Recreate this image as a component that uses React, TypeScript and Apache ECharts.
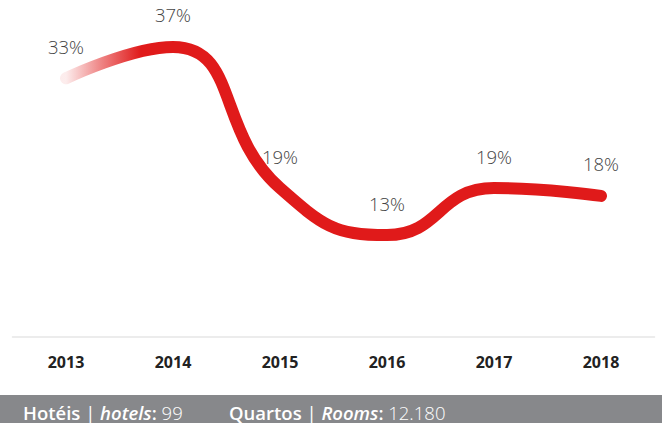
import React, { useEffect, useRef } from "react";
import * as echarts from "echarts";

const years = ["2013", "2014", "2015", "2016", "2017", "2018"];
const occupancy = [33, 37, 19, 13, 19, 18];
const hotelsCount = "99";
const roomsCount = "12.180";

export default function App() {
  const ref = useRef<HTMLDivElement>(null);
  useEffect(() => {
    document.body.style.margin = "0";
    const chart = echarts.init(ref.current!, null, { renderer: "svg" });
    const red = new echarts.graphic.LinearGradient(0, 0, 1, 0, [
      { offset: 0, color: "rgba(224,26,26,0.08)" },
      { offset: 0.06, color: "rgba(224,26,26,0.5)" },
      { offset: 0.14, color: "#e01a1a" },
      { offset: 1, color: "#e01a1a" },
    ]);
    const base = { fontFamily: "Open Sans", fontSize: 18.5, lineHeight: 14, fill: "#ffffff", color: "#ffffff" };
    const rich = {
      b: { ...base, fontWeight: 600 },
      n: { ...base, fontWeight: 400 },
      bi: { ...base, fontWeight: 600, fontStyle: "italic" },
      l: { ...base, fontWeight: 300 },
    };
    chart.setOption({
      animation: false,
      backgroundColor: "#ffffff",
      grid: { left: 12.5, right: 7.5, top: 23.4, bottom: 86 },
      xAxis: {
        type: "category",
        data: years,
        boundaryGap: true,
        axisLine: { show: true, lineStyle: { color: "#e6e6e6", width: 1.5 } },
        axisTick: { show: false },
        axisLabel: {
          margin: 17,
          color: "#222222",
          fontFamily: "Open Sans",
          fontWeight: "bold",
          fontSize: 16,
        },
      },
      yAxis: {
        type: "value",
        min: 0,
        max: 40,
        show: false,
        splitLine: { show: false },
      },
      series: [
        {
          type: "line",
          data: occupancy,
          smooth: 0.5,
          showSymbol: true,
          symbol: "circle",
          symbolSize: 1,
          itemStyle: { color: "rgba(0,0,0,0)" },
          lineStyle: { width: 12, color: red, cap: "round" },
          label: {
            show: true,
            position: "top",
            distance: 22,
            formatter: "{c}%",
            color: "#444444",
            fontFamily: "Open Sans",
            fontWeight: 300,
            fontSize: 18.5,
          },
        },
      ],
      graphic: [
        {
          type: "rect",
          left: 0,
          top: 395,
          shape: { width: 662, height: 28 },
          style: { fill: "#87888b" },
          silent: true,
        },
        {
          type: "text",
          x: 23,
          y: 412,
          style: {
            text: `{b|Hotéis }{n|| }{bi|hotels}{b|: }{l|${hotelsCount}}`,
            verticalAlign: "middle",
            rich,
          },
        },
        {
          type: "text",
          x: 229,
          y: 412,
          style: {
            text: `{b|Quartos }{n|| }{bi|Rooms}{b|: }{l|${roomsCount}}`,
            verticalAlign: "middle",
            rich,
          },
        },
      ],
    });
    return () => chart.dispose();
  }, []);
  return (
    <div
      ref={ref}
      style={{ position: "fixed", left: 0, top: 0, width: 662, height: 423 }}
    />
  );
}
